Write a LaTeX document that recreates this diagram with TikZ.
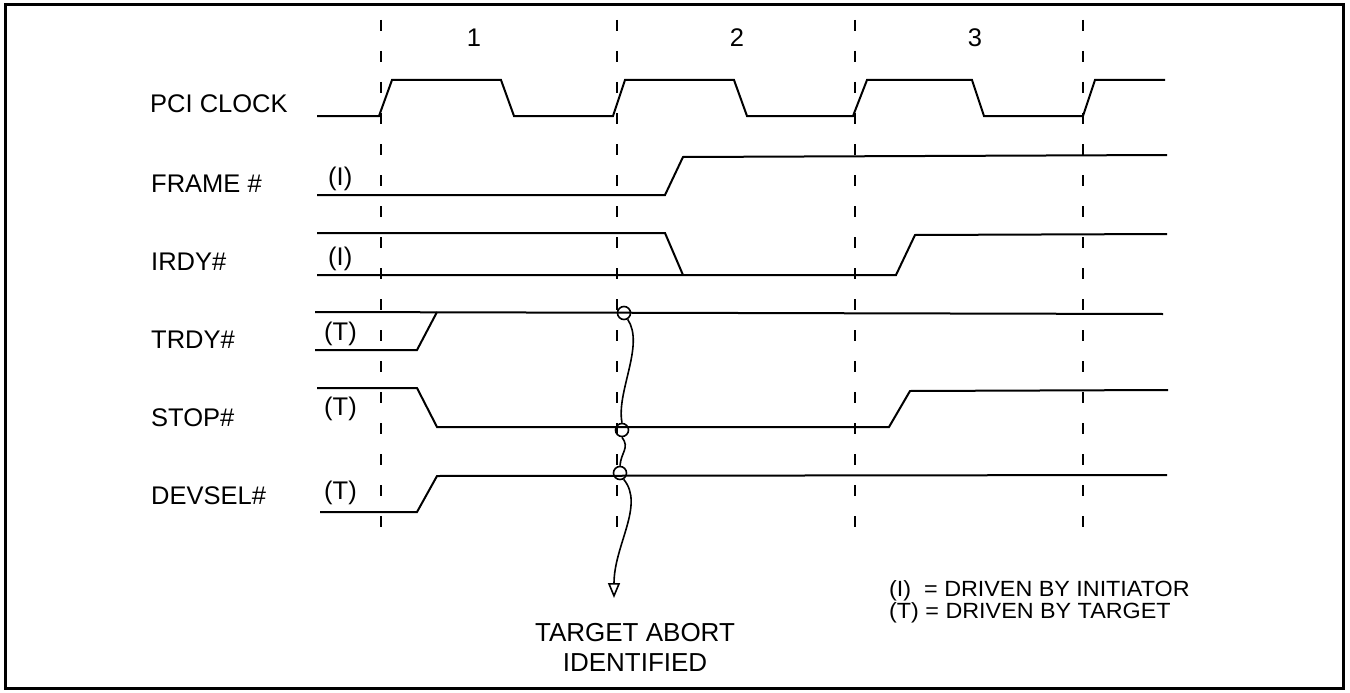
\documentclass[tikz,border=0pt]{standalone}
\usepackage{fontspec}
\setmainfont{Liberation Sans}
\usetikzlibrary{arrows.meta}
\tikzset{
  sig/.style={line width=2pt, line join=miter},
  clkdash/.style={line width=2.4pt, dash pattern=on 11pt off 20pt},
  lbl/.style={anchor=base west, inner sep=0pt, font=\fontsize{25.5}{30}\selectfont},
  leg/.style={anchor=base west, inner sep=0pt, font=\fontsize{22}{22}\selectfont},
  num/.style={anchor=base, inner sep=0pt, font=\fontsize{25.5}{30}\selectfont},
  ring/.style={circle, draw, line width=1.6pt, minimum size=13pt, inner sep=0pt},
  wiggle/.style={line width=1.6pt},
}
\begin{document}
\begin{tikzpicture}[x=1pt,y=-1pt]
\useasboundingbox (0,0) rectangle (1350,693);
\draw[line width=3pt] (5,5) rectangle (1343,688);
% dashed clock lines
\foreach \xx/\yy in {381/530,617/538,855/530,1083/530} \draw[clkdash] (\xx,20) -- (\xx,\yy);
% numbers
\node[num] (n1) at (474,47) {1};
\node[num] (n2) at (737,47) {2};
\node[num] (n3) at (975,47) {3};
% labels
\node[lbl] (lclk) at (150,113) {PCI CLOCK};
\node[lbl] (lframe) at (151,192) {FRAME \#};
\node[lbl] (lirdy) at (151,270) {IRDY\#};
\node[lbl] (ltrdy) at (151,348) {TRDY\#};
\node[lbl] (lstop) at (151,426) {STOP\#};
\node[lbl] (ldev) at (151,504) {DEVSEL\#};
\node[lbl] (iframe) at (328,185) {(I)};
\node[lbl] (iirdy) at (328,265) {(I)};
\node[lbl] (ttrdy) at (324,340) {(T)};
\node[lbl] (tstop) at (324,415) {(T)};
\node[lbl] (tdev) at (324,499) {(T)};
% signals
\draw[sig] (317,116) -- (379,116) -- (392,80) -- (501,80) -- (514,116) -- (613,116) -- (625,80) -- (734,80) -- (747,116) -- (853,116) -- (867,80) -- (972,80) -- (984,116) -- (1083,116) -- (1095,80) -- (1165,80);
\draw[sig] (317,195) -- (665,195) -- (683,157) -- (1167,155);
\draw[sig] (317,233) -- (665,233) -- (683,275);
\draw[sig] (317,275) -- (896,275) -- (915,235) -- (1167,234);
\draw[sig] (315,312) -- (1163,314);
\draw[sig] (315,350) -- (417,350) -- (437,312);
\draw[sig] (317,388) -- (417,388) -- (437,427) -- (889,427) -- (910,391) -- (1168,390);
\draw[sig] (320,512) -- (417,512) -- (437,476) -- (1167,475);
% target abort markers
\node[ring] (c1) at (624,313) {};
\node[ring] (c2) at (622,430) {};
\node[ring] (c3) at (620,473) {};
\coordinate (tip) at (614,598);
\draw[wiggle] (c1.-60) .. controls (645,345) and (616,392) .. (c2.north);
\draw[wiggle] (c2.south) .. controls (630,448) and (621,452) .. (c3.north);
\draw[wiggle, -{Triangle[open, length=15pt, width=12pt, line width=1.6pt]}] (c3.-60) .. controls (645,505) and (614,545) .. (tip);
\node[anchor=base, inner sep=0pt, align=center, font=\fontsize{26}{30}\selectfont] (abort) at (635,671) {TARGET ABORT\\IDENTIFIED};
% legend
\node[leg] (legi) at (889,596) {\scalebox{1.06}[1]{(I)\ \ = DRIVEN BY INITIATOR}};
\node[leg] (legt) at (889,618) {\scalebox{1.06}[1]{(T) = DRIVEN BY TARGET}};
\end{tikzpicture}
\end{document}
